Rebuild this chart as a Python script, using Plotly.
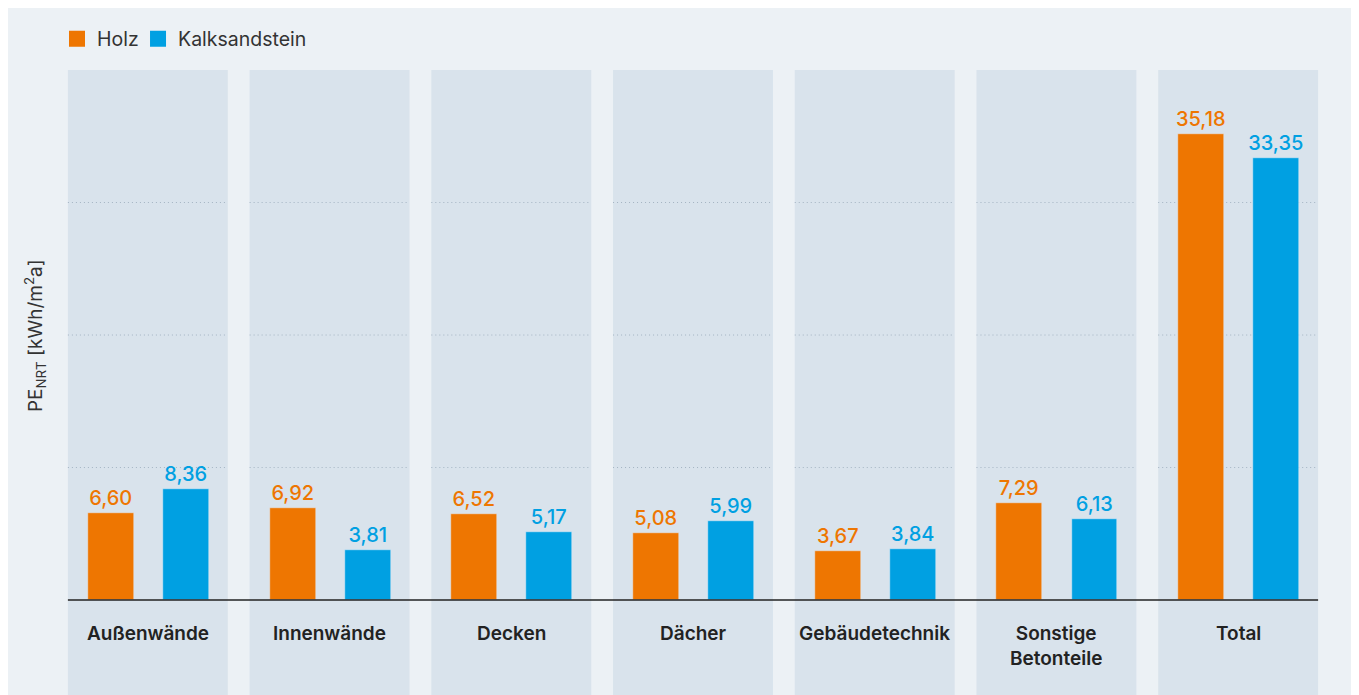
import plotly.graph_objects as go

# Data
categories = ["Außenwände", "Innenwände", "Decken", "Dächer", "Gebäudetechnik",
              "Sonstige<br>Betonteile", "Total"]
holz = [6.60, 6.92, 6.52, 5.08, 3.67, 7.29, 35.18]
kalksandstein = [8.36, 3.81, 5.17, 5.99, 3.84, 6.13, 33.35]
grid_vals = [10, 20, 30]

# Colours
c_holz = "#ee7601"
c_ks = "#00a0e2"
c_bg = "#ecf1f5"
c_panel = "#d9e3ec"
c_text = "#222222"
font = "Inter"

pos = list(range(len(categories)))
fig = go.Figure()

fig.add_trace(go.Bar(
    x=pos, y=holz, name="Holz", marker_color=c_holz,
    width=0.253, offset=-0.33,
    texttemplate="%{y:.2f}", textposition="outside", constraintext="none",
    textfont=dict(color=c_holz, size=20, family=font, weight=500),
    cliponaxis=False, showlegend=False
))
fig.add_trace(go.Bar(
    x=pos, y=kalksandstein, name="Kalksandstein", marker_color=c_ks,
    width=0.253, offset=0.083,
    texttemplate="%{y:.2f}", textposition="outside", constraintext="none",
    textfont=dict(color=c_ks, size=20, family=font, weight=500),
    cliponaxis=False, showlegend=False
))

# legend entries with bigger square symbols (one legend each, to set the spacing)
for name, col, leg in [("Holz", c_holz, "legend"), ("Kalksandstein", c_ks, "legend2")]:
    fig.add_trace(go.Scatter(
        x=[None], y=[None], mode="markers", name=name, legend=leg,
        marker=dict(symbol="square", size=16, color=col)
    ))

shapes = []
for i in pos:
    shapes.append(dict(type="rect", xref="x", yref="y",
                       x0=i - 0.44, x1=i + 0.44, y0=-10, y1=40,
                       fillcolor=c_panel, line_width=0, layer="below"))
    for g in grid_vals:
        shapes.append(dict(type="line", xref="x", yref="y",
                           x0=i - 0.44, x1=i + 0.44, y0=g, y1=g,
                           line=dict(color="#a3b3c2", width=1, dash="1px,3px"),
                           layer="below"))
shapes.append(dict(type="line", xref="x", yref="y",
                   x0=-0.44, x1=len(categories) - 0.56, y0=0, y1=0,
                   line=dict(color=c_text, width=1.5)))

annotations = []
for i, cat in zip(pos, categories):
    annotations.append(dict(
        x=i, y=-1.5, xref="x", yref="y", text=cat, showarrow=False,
        yanchor="top", xanchor="center",
        font=dict(family=font, size=19, color=c_text, weight=600)
    ))
annotations.append(dict(
    x=-0.0173, y=20, xref="paper", yref="y",
    text="PE<sub>NRT</sub> [kWh/m<sup>2</sup>a]", showarrow=False,
    textangle=-90, xanchor="center", yanchor="middle",
    font=dict(family=font, size=19, color="#333333")
))

legend_style = dict(orientation="h", y=1.049, yanchor="middle", xanchor="left",
                    bgcolor="rgba(0,0,0,0)",
                    font=dict(family=font, size=19.5, color="#333333"),
                    itemclick=False)

fig.update_layout(
    width=1359, height=695,
    margin=dict(l=49, r=38, t=62, b=0),
    paper_bgcolor=c_bg, plot_bgcolor="rgba(0,0,0,0)",
    separators=",.",
    bargap=0,
    xaxis=dict(range=[-0.5, 6.5], visible=False, fixedrange=True),
    yaxis=dict(range=[-7.77, 40], visible=False, fixedrange=True),
    shapes=shapes, annotations=annotations,
    legend=dict(x=0.0, **legend_style),
    legend2=dict(x=0.0637, **legend_style),
    showlegend=True,
)

fig.write_html("out.html")
